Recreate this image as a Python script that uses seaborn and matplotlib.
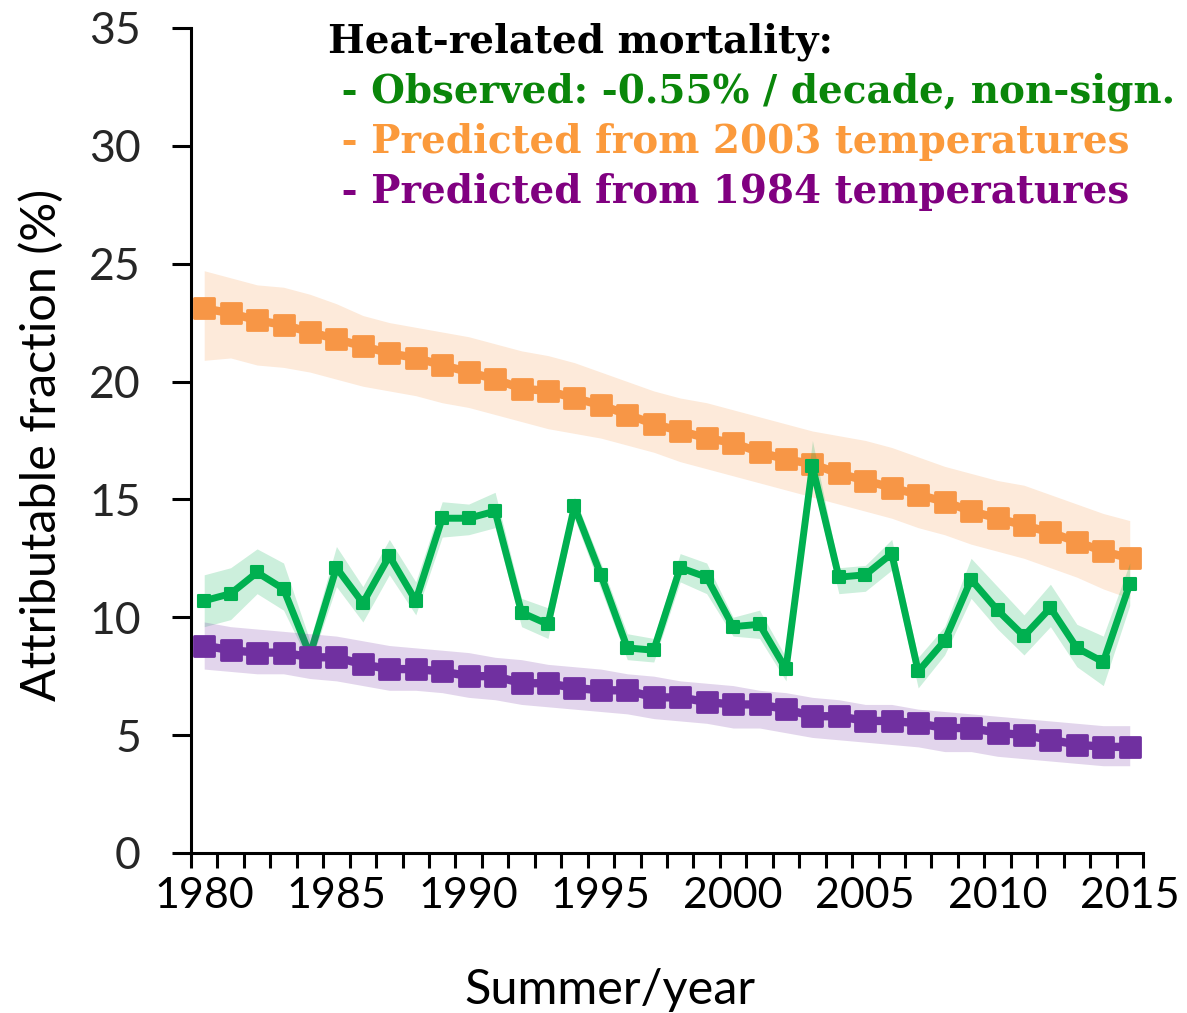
import numpy as np
import matplotlib.pyplot as plt
import seaborn as sns
from matplotlib.markers import MarkerStyle

# --- data ---
years = list(range(1980, 2016))

observed = [10.7, 11.0, 11.9, 11.2, 8.4, 12.1, 10.6, 12.6, 10.7, 14.2,
            14.2, 14.5, 10.2, 9.7, 14.7, 11.8, 8.7, 8.6, 12.1, 11.7,
            9.6, 9.7, 7.8, 16.4, 11.7, 11.8, 12.7, 7.7, 9.0, 11.6,
            10.3, 9.2, 10.4, 8.7, 8.1, 11.4]
observed_hi = [11.8, 12.1, 12.9, 12.3, 9.0, 13.0, 11.3, 13.3, 11.5, 14.9,
               14.8, 15.3, 10.8, 10.4, 15.1, 12.3, 9.3, 9.1, 12.7, 12.3,
               10.0, 10.3, 8.3, 17.5, 12.1, 12.2, 13.3, 8.3, 9.6, 12.5,
               11.3, 10.1, 11.4, 9.7, 9.2, 12.3]
observed_lo = [9.6, 9.9, 11.0, 10.3, 8.0, 11.3, 9.8, 11.8, 10.1, 13.4,
               13.5, 13.8, 9.6, 9.1, 14.2, 11.2, 8.2, 8.1, 11.5, 11.0,
               9.2, 9.1, 7.3, 15.8, 11.0, 11.1, 12.0, 7.0, 8.4, 10.8,
               9.5, 8.4, 9.6, 7.9, 7.1, 10.5]

pred_2003 = [23.1, 22.9, 22.6, 22.4, 22.1, 21.8, 21.5, 21.2, 21.0, 20.7,
             20.4, 20.1, 19.7, 19.6, 19.3, 19.0, 18.6, 18.2, 17.9, 17.6,
             17.4, 17.0, 16.7, 16.5, 16.1, 15.8, 15.5, 15.2, 14.9, 14.5,
             14.2, 13.9, 13.6, 13.2, 12.8, 12.5]
pred_2003_hi = [24.7, 24.4, 24.1, 24.0, 23.7, 23.3, 22.8, 22.5, 22.3, 22.1,
                21.9, 21.6, 21.3, 21.1, 20.8, 20.4, 20.0, 19.6, 19.3, 19.1,
                18.8, 18.5, 18.2, 17.9, 17.7, 17.5, 17.2, 16.8, 16.4, 16.1,
                15.8, 15.6, 15.2, 14.8, 14.4, 14.1]
pred_2003_lo = [20.9, 21.0, 20.7, 20.6, 20.4, 20.1, 19.8, 19.6, 19.4, 19.1,
                18.9, 18.6, 18.3, 18.0, 17.8, 17.6, 17.3, 17.0, 16.6, 16.3,
                16.0, 15.7, 15.4, 15.1, 14.8, 14.5, 14.2, 13.8, 13.5, 13.1,
                12.8, 12.5, 12.1, 11.7, 11.2, 10.8]

pred_1984 = [8.8, 8.6, 8.5, 8.5, 8.3, 8.3, 8.0, 7.8, 7.8, 7.7,
             7.5, 7.5, 7.2, 7.2, 7.0, 6.9, 6.9, 6.6, 6.6, 6.4,
             6.3, 6.3, 6.1, 5.8, 5.8, 5.6, 5.6, 5.5, 5.3, 5.3,
             5.1, 5.0, 4.8, 4.6, 4.5, 4.5]
pred_1984_hi = [9.8, 9.6, 9.5, 9.4, 9.3, 9.2, 9.0, 8.8, 8.7, 8.6,
                8.5, 8.3, 8.2, 8.0, 7.9, 7.8, 7.6, 7.5, 7.3, 7.2,
                7.1, 6.9, 6.8, 6.6, 6.5, 6.3, 6.3, 6.1, 6.0, 5.9,
                5.8, 5.7, 5.6, 5.5, 5.4, 5.4]
pred_1984_lo = [7.8, 7.7, 7.6, 7.6, 7.4, 7.3, 7.1, 6.9, 6.9, 6.8,
                6.6, 6.5, 6.3, 6.2, 6.1, 6.0, 5.9, 5.7, 5.6, 5.5,
                5.3, 5.3, 5.1, 4.9, 4.8, 4.7, 4.6, 4.5, 4.3, 4.3,
                4.1, 4.0, 3.9, 3.8, 3.7, 3.7]

title_lines = [
    ("Heat-related mortality:", "black"),
    (" - Observed: -0.55% / decade, non-sign.", "#0a860a"),
    (" - Predicted from 2003 temperatures", "#fb9a3c"),
    (" - Predicted from 1984 temperatures", "#800080"),
]

GREEN = "#00b050"
ORANGE = "#f79646"
PURPLE = "#7030a0"

sns.set_theme(style="white")
plt.rcParams['font.family'] = ['Lato', 'DejaVu Sans']

fig = plt.figure(figsize=(11.87, 10.13), dpi=100)
ax = fig.add_axes([0.1609, 0.158, 0.802, 0.8144])

sq = MarkerStyle('s', joinstyle='round')

# orange: predicted from 2003 temperatures
ax.fill_between(years, pred_2003_lo, pred_2003_hi, color=ORANGE, alpha=0.2,
                linewidth=0, zorder=1)
sns.lineplot(x=years, y=pred_2003, color=ORANGE, linewidth=6, marker=sq,
             markersize=14, markeredgecolor=ORANGE, markeredgewidth=2,
             ax=ax, zorder=2)

# green: observed
ax.fill_between(years, observed_lo, observed_hi, color=GREEN, alpha=0.2,
                linewidth=0, zorder=3)
sns.lineplot(x=years, y=observed, color=GREEN, linewidth=5, marker=sq,
             markersize=9, markeredgecolor=GREEN, markeredgewidth=1.5,
             ax=ax, zorder=4)

# purple: predicted from 1984 temperatures
ax.fill_between(years, pred_1984_lo, pred_1984_hi, color=PURPLE, alpha=0.2,
                linewidth=0, zorder=5)
sns.lineplot(x=years, y=pred_1984, color=PURPLE, linewidth=6, marker=sq,
             markersize=14, markeredgecolor=PURPLE, markeredgewidth=2,
             ax=ax, zorder=6)

ax.set_xlim(1979.5, 2015.5)
ax.set_ylim(0, 35)
ax.set_yticks(range(0, 36, 5))
ax.set_xticks(range(1980, 2016, 5))
ax.set_xticks(np.arange(1979.5, 2016, 1), minor=True)

for side in ['top', 'right']:
    ax.spines[side].set_visible(False)
for side in ['left', 'bottom']:
    ax.spines[side].set_color('black')
    ax.spines[side].set_linewidth(2.2)

ax.tick_params(axis='x', which='major', length=0, pad=17, labelsize=31,
               colors='black')
ax.tick_params(axis='x', which='minor', length=11, width=2.2, color='black',
               direction='out', bottom=True)
ax.tick_params(axis='y', which='major', length=14, width=2.2, color='black',
               direction='out', pad=22, labelsize=32, left=True)

ax.set_xlabel("Summer/year", fontsize=35, color='black')
ax.xaxis.set_label_coords(0.44, -0.166)
ax.xaxis.label.set_va('center')
ax.set_ylabel("Attributable fraction (%)", fontsize=35, color='black')
ax.yaxis.set_label_coords(-0.157, 0.4945)
ax.yaxis.label.set_va('center')

for i, (txt, col) in enumerate(title_lines):
    fig.text(328 / 1187, 1 - (42 + 50 * i) / 1013, txt, color=col,
             fontsize=28, fontweight='bold', va='center', ha='left',
             family=['DejaVu Serif'])

fig.savefig("out.png", dpi=100)
